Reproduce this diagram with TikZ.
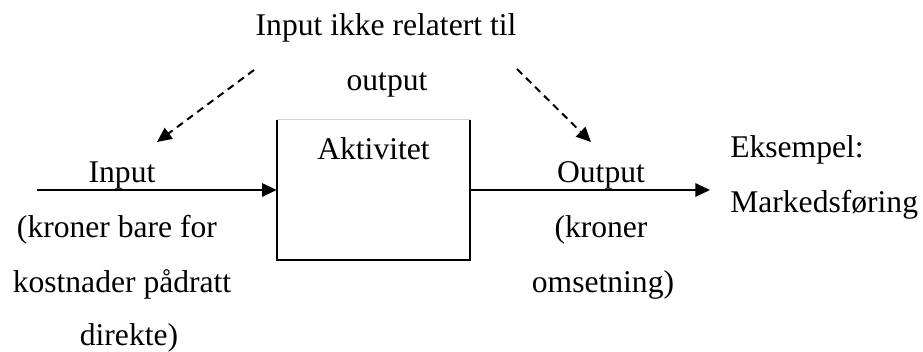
\documentclass[tikz,border=0pt]{standalone}
\usepackage{fontspec}
\setmainfont{Liberation Serif}
\usetikzlibrary{arrows.meta}
\begin{document}
\begin{tikzpicture}[
        x=0.75pt, y=-0.75pt,
        every node/.style={font=\fontsize{23.7}{28}\selectfont, inner sep=0pt},
        tekst/.style={anchor=base},
        pil/.style={line width=1.5pt, -{Triangle[length=11pt,width=10pt]}},
        stiplet/.style={pil, dash pattern=on 5.5pt off 4pt}
    ]
    \useasboundingbox (0,0) rectangle (923,351);
    \node[minimum width=144.75pt, minimum height=105pt] (boks) at (373.5,190) {};
    \draw[line width=1.5pt] (boks.north west) -- (boks.south west) -- (boks.south east) -- (boks.north east);
    \draw[gray!35, line width=0.75pt] (boks.north west) -- (boks.north east);
    \node[tekst] (aktivitet) at (373.5,159) {Aktivitet};
    \node[tekst] (topp1) at (386,35) {Input ikke relatert til};
    \node[tekst] (topp2) at (387,90) {output};
    \node[tekst] (inn1) at (122,182) {Input};
    \node[tekst] (inn2) at (117,237) {(kroner bare for};
    \node[tekst] (inn3) at (122,292) {kostnader pådratt};
    \node[tekst] (inn4) at (129,345) {direkte)};
    \node[tekst] (ut1) at (601,182) {Output};
    \node[tekst] (ut2) at (601,237) {(kroner};
    \node[tekst] (ut3) at (603,292) {omsetning)};
    \node[anchor=base west] (eks1) at (730,157) {Eksempel:};
    \node[anchor=base west] (eks2) at (730,212) {Markedsføring};
    \coordinate (innstart) at (37,190);
    \coordinate (utslutt) at (710,190);
    \draw[pil] (innstart) -- (boks.west);
    \draw[pil] (boks.east) -- (utslutt);
    \coordinate (vstart) at (254,70);
    \coordinate (vslutt) at (157,142);
    \coordinate (hstart) at (517,69);
    \coordinate (hslutt) at (591,142);
    \draw[stiplet] (vstart) -- (vslutt);
    \draw[stiplet] (hstart) -- (hslutt);
\end{tikzpicture}
\end{document}
